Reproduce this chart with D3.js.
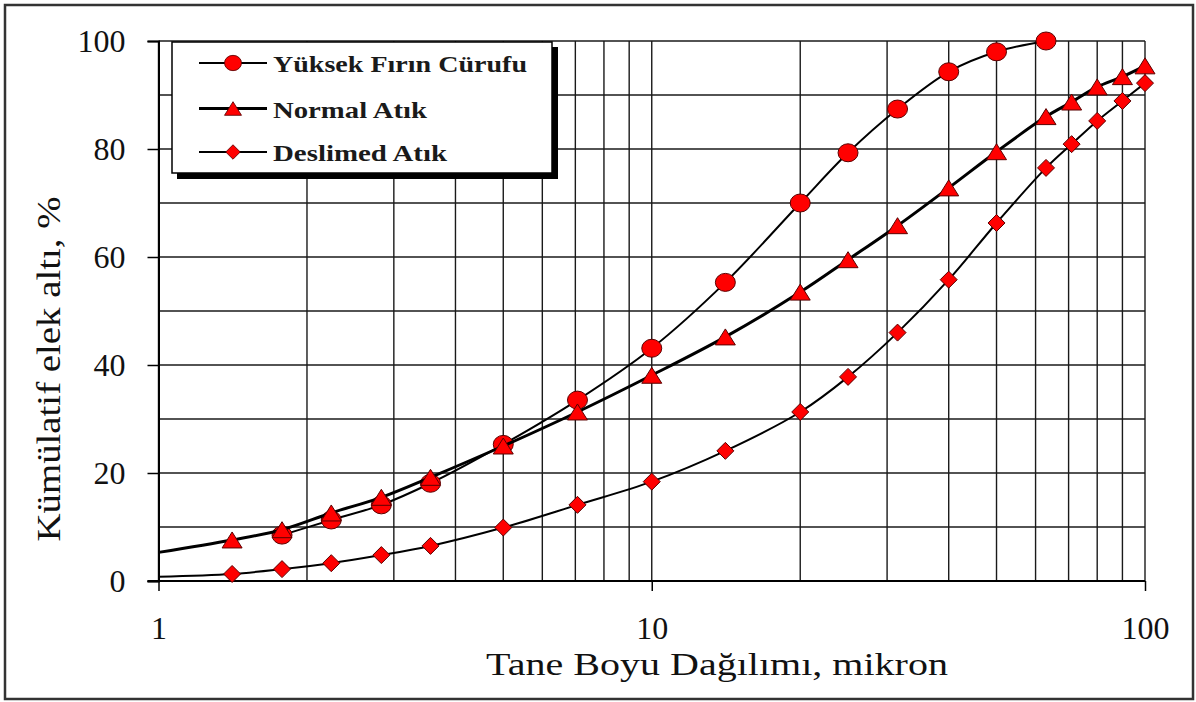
<!DOCTYPE html>
<html>
<head>
<meta charset="utf-8">
<script src="https://cdn.jsdelivr.net/npm/d3@7"></script>
<style>
  html, body { margin: 0; padding: 0; background: #fff; }
  svg { display: block; font-family: "Liberation Serif", "Times New Roman", serif; }
</style>
</head>
<body>
<svg id="chart"></svg>
<script>
// particle size (micron) at each sieve point
const sizes = [1, 1.41, 1.78, 2.24, 2.83, 3.56, 5, 7.07, 10, 14.1, 20, 25, 31.5, 40, 50, 63, 71, 80, 90, 100];

// cumulative passing, %
const yuksekFirin = [null, null, 8.5, 11.3, 14.1, 18.1, 25.3, 33.5, 43.1, 55.3, 70.0, 79.3, 87.4, 94.3, 98.0, 100, null, null, null, null];
const normalAtik = [5.3, 7.6, 9.5, 12.6, 15.5, 19.2, 25.0, 31.3, 38.1, 45.2, 53.5, 59.5, 65.8, 72.8, 79.5, 86.0, 88.7, 91.5, 93.4, 95.4];
const deslimedAtik = [0.8, 1.3, 2.2, 3.3, 4.8, 6.5, 9.9, 14.1, 18.4, 24.1, 31.3, 37.8, 46.0, 55.8, 66.3, 76.5, 80.9, 85.2, 88.9, 92.2];

// the curve starts here but no marker is drawn
const unmarkedSizes = [1];

const seriesNames = ["Yüksek Fırın Cürufu", "Normal Atık", "Deslimed Atık"];
const yTicks = [0, 20, 40, 60, 80, 100];
const xTicks = [1, 10, 100];

const width = 1196;
const height = 702;
const margin = { top: 41, right: 51, bottom: 121, left: 158.5 };

const svg = d3.select("#chart")
  .attr("width", width)
  .attr("height", height);

svg.append("rect")
  .attr("x", 5).attr("y", 5)
  .attr("width", 1188).attr("height", 694)
  .attr("fill", "#fff")
  .attr("stroke", "#333")
  .attr("stroke-width", 2.5);

const x = d3.scaleLog()
  .domain([1, 100])
  .range([margin.left, width - margin.right]);

const y = d3.scaleLinear()
  .domain([0, 100])
  .range([height - margin.bottom, margin.top]);

// grid
const grid = svg.append("g").attr("stroke", "#1a1a1a").attr("stroke-width", 1.4);

grid.selectAll(".vgrid")
  .data(x.ticks())
  .enter()
  .append("line")
  .attr("x1", d => x(d)).attr("x2", d => x(d))
  .attr("y1", y(0)).attr("y2", y(100));

grid.selectAll(".hgrid")
  .data(d3.range(10, 101, 10))
  .enter()
  .append("line")
  .attr("x1", x(1)).attr("x2", x(100))
  .attr("y1", d => y(d)).attr("y2", d => y(d));

// axes
const yAxis = svg.append("g")
  .attr("transform", `translate(${x(1)},0)`)
  .call(d3.axisLeft(y).tickValues(yTicks).tickSize(11).tickPadding(22));

const xAxis = svg.append("g")
  .attr("transform", `translate(0,${y(0)})`)
  .call(d3.axisBottom(x).tickValues(xTicks).tickFormat(d3.format("d")).tickSize(10).tickPadding(25));

[yAxis, xAxis].forEach(ax => {
  ax.select(".domain").attr("stroke", "#000").attr("stroke-width", 2);
  ax.selectAll(".tick line").attr("stroke", "#000").attr("stroke-width", 1.5);
  ax.selectAll(".tick text")
    .attr("fill", "#111")
    .style("font-family", "'Liberation Serif', serif")
    .style("font-size", "32px");
});
xAxis.select(".domain").attr("d", `M${x(1) - 11},0H${x(100)}`);

// series
const line = d3.line()
  .defined(d => d[1] != null)
  .x(d => x(d[0]))
  .y(d => y(d[1]))
  .curve(d3.curveCatmullRom.alpha(0.5));

const markerPath = {
  circle: () => "M-10,0A10,9 0 1,0 10,0A10,9 0 1,0 -10,0Z",
  triangle: () => "M0,-8L10,8L-10,8Z",
  diamond: () => "M0,-8.5L8.5,0L0,8.5L-8.5,0Z"
};

const series = [
  { name: seriesNames[0], values: yuksekFirin, marker: "circle", width: 2 },
  { name: seriesNames[1], values: normalAtik, marker: "triangle", width: 3 },
  { name: seriesNames[2], values: deslimedAtik, marker: "diamond", width: 2 }
];

series.forEach(s => {
  const pts = sizes.map((d, i) => [d, s.values[i]]).filter(d => d[1] != null);

  svg.append("path")
    .datum(pts)
    .attr("fill", "none")
    .attr("stroke", "#000")
    .attr("stroke-width", s.width)
    .attr("d", line);

  svg.append("g")
    .selectAll("path")
    .data(pts.filter(d => !unmarkedSizes.includes(d[0])))
    .enter()
    .append("path")
    .attr("transform", d => `translate(${x(d[0])},${y(d[1])})`)
    .attr("d", markerPath[s.marker]())
    .attr("fill", "#ff0000")
    .attr("stroke", "#5a0000")
    .attr("stroke-width", 1);
});

// legend
const legend = svg.append("g");
legend.append("rect")
  .attr("x", 177).attr("y", 47)
  .attr("width", 381).attr("height", 132)
  .attr("fill", "#000");
legend.append("rect")
  .attr("x", 172).attr("y", 42)
  .attr("width", 380).attr("height", 131)
  .attr("fill", "#fff")
  .attr("stroke", "#000")
  .attr("stroke-width", 1.5);

const legendRows = [63, 108.5, 152];
const legendWidths = [254, 154, 174];

series.forEach((s, i) => {
  const row = legend.append("g").attr("transform", `translate(0,${legendRows[i]})`);
  row.append("line")
    .attr("x1", 199).attr("x2", 267)
    .attr("stroke", "#000")
    .attr("stroke-width", s.width);
  row.append("path")
    .attr("transform", "translate(233,0) scale(0.85)")
    .attr("d", markerPath[s.marker]())
    .attr("fill", "#ff0000")
    .attr("stroke", "#5a0000")
    .attr("stroke-width", 1);
  row.append("text")
    .attr("x", 273).attr("y", 9)
    .attr("font-size", 24)
    .attr("font-weight", "bold")
    .attr("fill", "#1a1a1a")
    .attr("textLength", legendWidths[i])
    .attr("lengthAdjust", "spacingAndGlyphs")
    .text(s.name);
});

// axis titles
svg.append("text")
  .attr("x", 717).attr("y", 675)
  .attr("text-anchor", "middle")
  .attr("font-size", 31)
  .attr("fill", "#111")
  .attr("textLength", 462)
  .attr("lengthAdjust", "spacingAndGlyphs")
  .text("Tane Boyu Dağılımı, mikron");

svg.append("text")
  .attr("transform", "translate(60,369) rotate(-90)")
  .attr("text-anchor", "middle")
  .attr("font-size", 33)
  .attr("fill", "#111")
  .attr("textLength", 345)
  .attr("lengthAdjust", "spacingAndGlyphs")
  .text("Kümülatif elek altı, %");
</script>
</body>
</html>
